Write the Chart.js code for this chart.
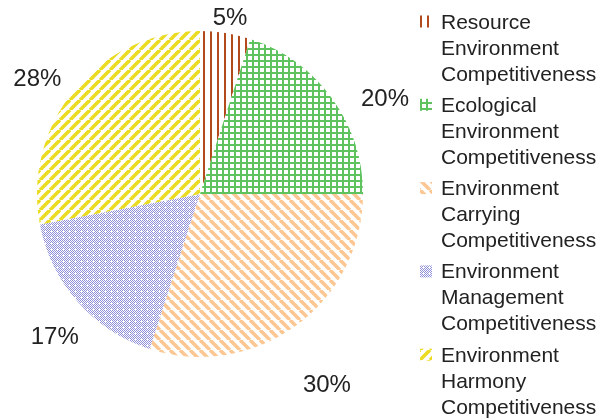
<!DOCTYPE html>
<html>
<head>
<meta charset="utf-8">
<script src="https://cdn.jsdelivr.net/npm/chart.js@4.4.1/dist/chart.umd.min.js"></script>
<style>
  body { margin: 0; background: #fff; }
</style>
</head>
<body>
<canvas id="pieChart" width="606" height="418"></canvas>
<script>
// values
const categories = [
  ['Resource', 'Environment', 'Competitiveness'],
  ['Ecological', 'Environment', 'Competitiveness'],
  ['Environment', 'Carrying', 'Competitiveness'],
  ['Environment', 'Management', 'Competitiveness'],
  ['Environment', 'Harmony', 'Competitiveness']
];
const shares = [5, 20, 30, 17, 28];
const shareLabels = ['5%', '20%', '30%', '17%', '28%'];

let canvas = document.getElementById('pieChart');
let ctx = canvas.getContext('2d');

// small tiles used as hatch fills
function makePattern(size, draw) {
  let tile = document.createElement('canvas');
  tile.width = size;
  tile.height = size;
  let g = tile.getContext('2d');
  g.fillStyle = '#fff';
  g.fillRect(0, 0, size, size);
  draw(g, size);
  return ctx.createPattern(tile, 'repeat');
}

function diagonal(color, width, back) {
  return function(g, s) {
    g.strokeStyle = color;
    g.lineWidth = width;
    for (let k = -1; k <= 1; k++) {
      g.beginPath();
      if (back) {
        g.moveTo(k * s, 0);
        g.lineTo(k * s + s, s);
      } else {
        g.moveTo(k * s, s);
        g.lineTo(k * s + s, 0);
      }
      g.stroke();
    }
  };
}

let patterns = [
  makePattern(7, (g, s) => {
    g.fillStyle = '#b24a1c';
    g.fillRect(0, 0, 2, s);
  }),
  makePattern(6, (g, s) => {
    g.fillStyle = '#5ec35e';
    g.fillRect(0, 0, 2, s);
    g.fillRect(0, 0, s, 2);
  }),
  makePattern(10, diagonal('#fcc792', 3.6, true)),
  makePattern(6, (g, s) => {
    g.fillStyle = '#9090da';
    for (let x = 0; x < s; x++) {
      for (let y = 0; y < s; y++) {
        if ((x + y) % 2 === 0 && !(x === 3 && y === 3)) g.fillRect(x, y, 1, 1);
      }
    }
  }),
  makePattern(10, diagonal('#ebdb22', 3.6, false))
];

// percentage text outside each slice
const pctLabels = {
  id: 'pctLabels',
  afterDatasetsDraw(chart, args, opts) {
    let c = chart.ctx;
    let meta = chart.getDatasetMeta(0);
    c.save();
    c.font = '24px "Liberation Sans", Arial, sans-serif';
    c.fillStyle = '#222';
    c.textAlign = 'center';
    c.textBaseline = 'middle';
    meta.data.forEach((arc, i) => {
      let mid = (arc.startAngle + arc.endAngle) / 2 + opts.turn[i] * Math.PI / 180;
      let d = arc.outerRadius + opts.gap[i];
      c.fillText(shareLabels[i], arc.x + Math.cos(mid) * d, arc.y + Math.sin(mid) * d);
    });
    c.restore();
  }
};

// legend on the right with multi-line names
const sideLegend = {
  id: 'sideLegend',
  afterDraw(chart, args, opts) {
    let c = chart.ctx;
    let bg = chart.data.datasets[0].backgroundColor;
    c.save();
    c.font = '21px "Liberation Sans", Arial, sans-serif';
    c.textBaseline = 'alphabetic';
    let y = opts.top;
    chart.data.labels.forEach((lines, i) => {
      c.fillStyle = bg[i];
      c.fillRect(opts.left, y - 13, 12, 12);
      c.fillStyle = '#222';
      lines.forEach((t, j) => c.fillText(t, opts.left + 21, y + j * opts.lineHeight));
      y += opts.itemStep;
    });
    c.restore();
  }
};

new Chart(ctx, {
  type: 'pie',
  data: {
    labels: categories,
    datasets: [{
      data: shares,
      backgroundColor: patterns,
      borderWidth: 0,
      hoverOffset: 0
    }]
  },
  options: {
    responsive: false,
    animation: false,
    layout: {
      padding: { left: 37, top: 31, right: 243, bottom: 61 }
    },
    plugins: {
      legend: { display: false },
      tooltip: { enabled: false },
      pctLabels: {
        turn: [0.7, 8.8, 2.5, -3.2, -4.4],
        gap: [15, 45, 67, 41, 36]
      },
      sideLegend: {
        left: 420,
        top: 28.5,
        lineHeight: 26,
        itemStep: 83.3
      }
    }
  },
  plugins: [pctLabels, sideLegend]
});
</script>
</body>
</html>
